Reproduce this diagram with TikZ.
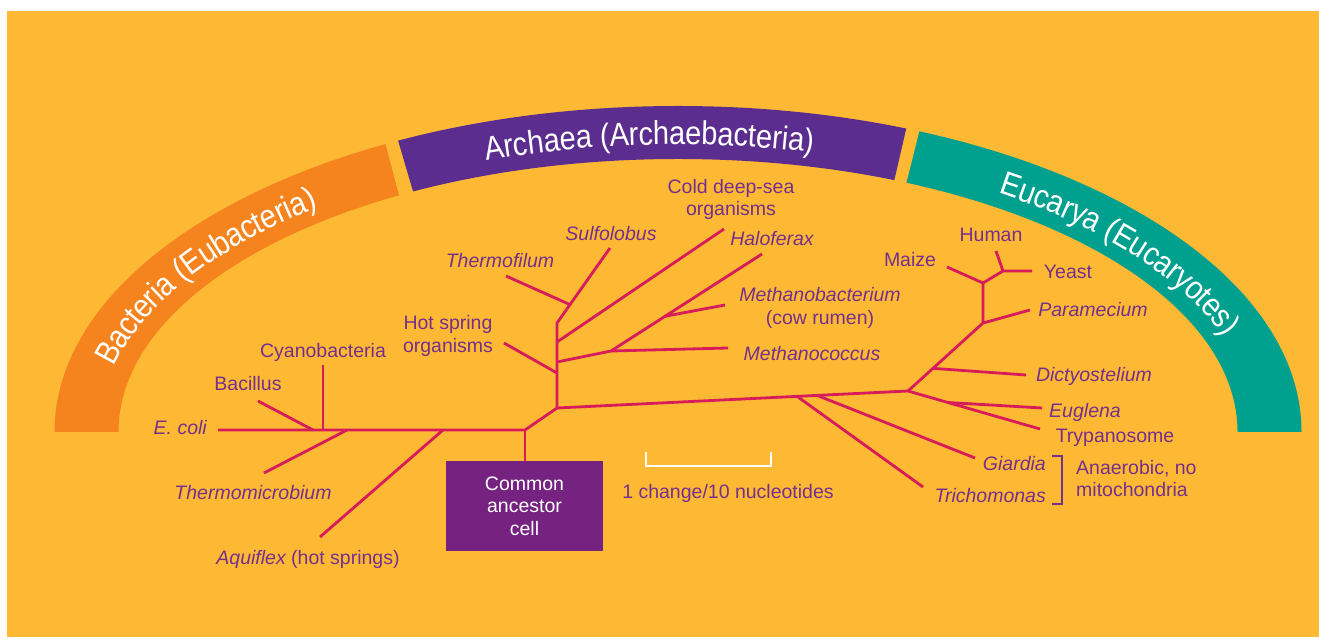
\documentclass[tikz,border=0pt]{standalone}
\usepackage{fontspec}
\setmainfont{Liberation Sans}
\newfontfamily\bandlabelfont[FakeStretch=0.88]{Liberation Sans}
\usetikzlibrary{decorations.text,calc}

\definecolor{bgyellow}{HTML}{FDB933}
\definecolor{bandorange}{HTML}{F5841F}
\definecolor{bandpurple}{HTML}{5B2D8E}
\definecolor{bandteal}{HTML}{00A08F}
\definecolor{treeline}{HTML}{D81B5A}
\definecolor{labelpurple}{HTML}{74308C}
\definecolor{boxpurple}{HTML}{762281}

\newcommand\bandstyle{\bandlabelfont\fontsize{33pt}{36pt}\selectfont}
\newcommand\labelsize{\fontsize{19.5pt}{22.5pt}\selectfont}

\tikzset{
  branch/.style={draw=treeline, line width=2.8pt},
  lbl/.style={text=labelpurple, inner sep=0pt, font=\labelsize},
  ital/.style={text=labelpurple, inner sep=0pt, font=\labelsize\itshape},
  ancestor/.style={fill=boxpurple, text=white, inner sep=0pt, align=center,
    minimum width=157pt, minimum height=90pt, font=\labelsize},
  bandtext/.style={decorate, decoration={text along path, text align=center,
    text color=white, raise=-12pt, text={|\bandstyle|#1}}},
  scalebar/.style={draw=white, line width=2.5pt},
  bracket/.style={draw=labelpurple, line width=1.4pt}
}

\begin{document}
\begin{tikzpicture}[x=1pt, y=1pt]
\useasboundingbox (0,0) rectangle (1319,637);
\fill[white] (0,0) rectangle (1319,637);
\fill[bgyellow] (7,0) rectangle (1319,626);

% ---- the three domain bands (pieces of an elliptic ring) ----
\begin{scope}
  \clip (0,205) -- (0,647) -- (345.5,647) -- (460.4,205) -- cycle;
  \fill[bandorange, even odd rule]
    (678,205) ellipse[x radius=623.5pt, y radius=326pt]
    (678,205) ellipse[x radius=559.5pt, y radius=273pt];
\end{scope}
\begin{scope}
  \clip (353.8,647) -- (483.8,205) -- (836.2,205) -- (938.2,647) -- cycle;
  \fill[bandpurple, even odd rule]
    (678,205) ellipse[x radius=623.5pt, y radius=326pt]
    (678,205) ellipse[x radius=559.5pt, y radius=273pt];
\end{scope}
\begin{scope}
  \clip (954.7,647) -- (1330,647) -- (1330,205) -- (844.2,205) -- cycle;
  \fill[bandteal, even odd rule]
    (678,205) ellipse[x radius=623.5pt, y radius=326pt]
    (678,205) ellipse[x radius=559.5pt, y radius=273pt];
\end{scope}

\path[bandtext={Bacteria (Eubacteria)}]
  ({678+591.5*cos(178)},{205+299.5*sin(178)})
  arc[start angle=178, end angle=121, x radius=591.5pt, y radius=299.5pt];
\path[bandtext={Archaea (Archaebacteria)}]
  ({678+591.5*cos(116)},{205+299.5*sin(116)})
  arc[start angle=116, end angle=70, x radius=591.5pt, y radius=299.5pt];
\path[bandtext={Eucarya (Eucaryotes)}]
  ({678+591.5*cos(64)},{205+299.5*sin(64)})
  arc[start angle=64, end angle=8, x radius=591.5pt, y radius=299.5pt];

% ---- branch points and tips ----
\coordinate (ecoliT) at (218,207);
\coordinate (b1) at (313,207);
\coordinate (b2) at (323,207);
\coordinate (b3) at (347,207);
\coordinate (b4) at (443,207);
\coordinate (root) at (525,207);
\coordinate (bacT) at (258,236);
\coordinate (cyaT) at (323,272);
\coordinate (thmT) at (264,164);
\coordinate (aqT) at (320,100);

\coordinate (a0) at (557,229);
\coordinate (atop) at (557,314);
\coordinate (sulT) at (610,389);
\coordinate (thfJ) at ($(atop)!0.245!(sulT)$);
\coordinate (thfT) at (506,361);
\coordinate (a1) at (557,295);
\coordinate (cdT) at (724,408);
\coordinate (a2) at (557,275);
\coordinate (a3) at (611,286);
\coordinate (halT) at (762,383);
\coordinate (mbJ) at ($(a3)!0.358!(halT)$);
\coordinate (mbT) at (725,332);
\coordinate (mcT) at (728,289);
\coordinate (a4) at (557,264);
\coordinate (hsT) at (504,294);

\coordinate (e0) at (908,246);
\coordinate (tcJ) at ($(a0)!0.684!(e0)$);
\coordinate (tcT) at (923,150);
\coordinate (gdJ) at ($(a0)!0.741!(e0)$);
\coordinate (gdT) at (975,179);
\coordinate (tryT) at (1040,208);
\coordinate (egJ) at ($(e0)!0.303!(tryT)$);
\coordinate (egT) at (1042,229);
\coordinate (e1) at (983,314);
\coordinate (dcJ) at ($(e0)!0.333!(e1)$);
\coordinate (dcT) at (1026,262);
\coordinate (paT) at (1030,327);
\coordinate (e2) at (983,354);
\coordinate (mzT) at (947,370);
\coordinate (e3) at (1003,366);
\coordinate (huT) at (996,386);
\coordinate (yeT) at (1032,366);

% ---- ancestor box ----
\node[ancestor] (anc) at (524.5,131) {Common\\ancestor\\cell};

% ---- branches ----
\draw[branch] (ecoliT) -- (root) -- (a0);
\draw[branch] (root) -- (root |- anc.north);
\draw[branch] (bacT) -- (b1);
\draw[branch] (cyaT) -- (b2);
\draw[branch] (thmT) -- (b3);
\draw[branch] (aqT) -- (b4);

\draw[branch] (a0) -- (atop) -- (sulT);
\draw[branch] (thfT) -- (thfJ);
\draw[branch] (a1) -- (cdT);
\draw[branch] (a2) -- (a3) -- (halT);
\draw[branch] (mbJ) -- (mbT);
\draw[branch] (a3) -- (mcT);
\draw[branch] (hsT) -- (a4);

\draw[branch] (a0) -- (e0);
\draw[branch] (tcJ) -- (tcT);
\draw[branch] (gdJ) -- (gdT);
\draw[branch] (e0) -- (tryT);
\draw[branch] (egJ) -- (egT);
\draw[branch] (e0) -- (e1) -- (e2) -- (e3) -- (yeT);
\draw[branch] (e3) -- (huT);
\draw[branch] (mzT) -- (e2);
\draw[branch] (dcJ) -- (dcT);
\draw[branch] (e1) -- (paT);

% ---- labels ----
\node[ital, anchor=mid east] (ecoli) at (207,205) {E. coli};
\node[lbl, anchor=mid] (bacillus) at (248,249) {Bacillus};
\node[lbl, anchor=mid] (cyano) at (323,282) {Cyanobacteria};
\node[ital, anchor=mid] (thermomicro) at (253,140) {Thermomicrobium};
\node[lbl, anchor=mid] (aquiflex) at (308,75) {{\itshape Aquiflex} (hot springs)};
\node[lbl, align=center] (hotspring) at (448,301) {Hot spring\\organisms};
\node[ital, anchor=mid] (thermofilum) at (500,372) {Thermofilum};
\node[ital, anchor=mid] (sulfolobus) at (611,399) {Sulfolobus};
\node[lbl, align=center] (colddeep) at (731,437.5) {Cold deep-sea\\organisms};
\node[ital, anchor=mid] (haloferax) at (772,394) {Haloferax};
\node[lbl, align=center] (methbact) at (820,329) {{\itshape Methanobacterium}\\(cow rumen)};
\node[ital, anchor=mid] (methcocc) at (812,279) {Methanococcus};
\node[lbl, anchor=mid] (maize) at (910,373) {Maize};
\node[lbl, anchor=mid] (human) at (991,398) {Human};
\node[lbl, anchor=mid] (yeast) at (1068,361) {Yeast};
\node[ital, anchor=mid] (paramecium) at (1093,323) {Paramecium};
\node[ital, anchor=mid] (dictyo) at (1094,258) {Dictyostelium};
\node[ital, anchor=mid] (euglena) at (1085,222) {Euglena};
\node[lbl, anchor=mid] (trypano) at (1115,197) {Trypanosome};
\node[ital, anchor=mid east] (giardia) at (1046,169) {Giardia};
\node[ital, anchor=mid east] (trichom) at (1046,137) {Trichomonas};
\node[lbl, align=left, anchor=west] (anaerobic) at (1076,158.5) {Anaerobic, no\\mitochondria};

% bracket grouping the two anaerobic protists
\coordinate (brTop) at (1062,181);
\coordinate (brBot) at (1062,133);
\draw[bracket] ($(brTop)+(-10,0)$) -- (brTop) -- (brBot) -- ($(brBot)+(-10,0)$);

% ---- scale bar ----
\coordinate (sbL) at (646,171);
\coordinate (sbR) at (771,171);
\draw[scalebar] ($(sbL)+(0,14)$) -- (sbL) -- (sbR) -- ($(sbR)+(0,14)$);
\node[lbl, anchor=mid] (scalelbl) at (728,141) {1 change/10 nucleotides};
\end{tikzpicture}
\end{document}
